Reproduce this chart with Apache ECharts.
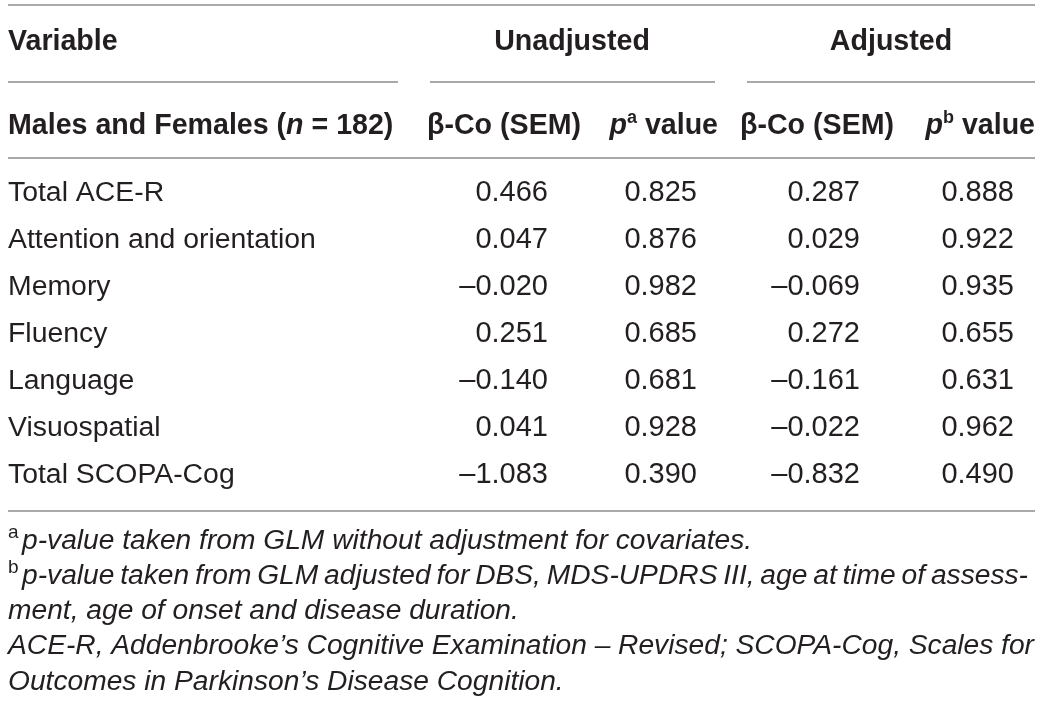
<!DOCTYPE html>
<html>
<head>
<meta charset="utf-8">
<script src="https://cdn.jsdelivr.net/npm/echarts@6/dist/echarts.min.js"></script>
<style>
  html, body { margin: 0; padding: 0; background: #fff; }
  #main { width: 1043px; height: 710px; }
</style>
</head>
<body>
<div id="main"></div>
<script>
// table content
const variables = ['Total ACE-R', 'Attention and orientation', 'Memory', 'Fluency', 'Language', 'Visuospatial', 'Total SCOPA-Cog'];
const unadjBeta = [0.466, 0.047, -0.020, 0.251, -0.140, 0.041, -1.083];
const unadjP = [0.825, 0.876, 0.982, 0.685, 0.681, 0.928, 0.390];
const adjBeta = [0.287, 0.029, -0.069, 0.272, -0.161, -0.022, -0.832];
const adjP = [0.888, 0.922, 0.935, 0.655, 0.631, 0.962, 0.490];
const groupHeaders = ['Unadjusted', 'Adjusted'];
const footnotes = [
    { sup: 'a', text: 'p-value taken from GLM without adjustment for covariates.', justify: false },
    { sup: 'b', text: 'p-value taken from GLM adjusted for DBS, MDS-UPDRS III, age at time of assess-', justify: true },
    { text: 'ment, age of onset and disease duration.', justify: false },
    { text: 'ACE-R, Addenbrooke\u2019s Cognitive Examination \u2013 Revised; SCOPA-Cog, Scales for', justify: true },
    { text: 'Outcomes in Parkinson\u2019s Disease Cognition.', justify: false }
];

// layout
const W = 1043;
const FONT = '"Liberation Sans", Arial, Helvetica, sans-serif';
const TEXT = '#231f20';
const RULE = '#8c8c8c';
const BODY = 28.4;   // body text size
const BOLD = 28.6;   // header size
const FS = 28.2;     // footnote size
const colRight = [548, 697, 860, 1014];
const footY = [541, 576, 611, 646, 682];

const fmt = v => (v < 0 ? '\u2013' : '') + Math.abs(v).toFixed(3);

const ctx = document.createElement('canvas').getContext('2d');
function measure(t, size) {
    ctx.font = 'italic ' + size + 'px ' + FONT;
    return ctx.measureText(t).width;
}

function rule(x1, x2, y) {
    return { type: 'line', shape: { x1: x1, y1: y, x2: x2, y2: y }, style: { stroke: RULE, lineWidth: 1.5 } };
}
function txt(t, x, y, opt) {
    return {
        type: 'text', x: x, y: y,
        style: Object.assign({
            text: t, fontFamily: FONT, fontSize: FS, fill: TEXT,
            align: 'left', verticalAlign: 'middle'
        }, opt || {})
    };
}

const headRich = {
    b: { fontFamily: FONT, fontSize: BOLD, fontWeight: 'bold', fill: TEXT, lineHeight: 34 },
    bi: { fontFamily: FONT, fontSize: BOLD, fontWeight: 'bold', fontStyle: 'italic', fill: TEXT, lineHeight: 34 },
    sup: { fontFamily: FONT, fontSize: 18, fontWeight: 'bold', fill: TEXT, lineHeight: 20, verticalAlign: 'top' }
};
function head(t, x, y, align) {
    return {
        type: 'text', x: x, y: y,
        style: { text: t, rich: headRich, align: align || 'left', verticalAlign: 'middle' }
    };
}

const graphics = [
    rule(8, 1035, 5),
    rule(8, 398, 82), rule(430, 715, 82), rule(747, 1035, 82),
    rule(8, 1035, 158),
    rule(8, 1035, 511),
    head('{b|Variable}', 8, 42),
    head('{b|' + groupHeaders[0] + '}', 572, 42, 'center'),
    head('{b|' + groupHeaders[1] + '}', 891, 42, 'center'),
    head('{b|Males and Females (}{bi|n}{b| = 182)}', 8, 126),
    head('{b|\u03b2-Co (SEM)}', 427, 126),
    head('{bi|p}{sup|a}{b| value}', 718, 126, 'right'),
    head('{b|\u03b2-Co (SEM)}', 740, 126),
    head('{bi|p}{sup|b}{b| value}', 1035, 126, 'right')
];

// footnotes, justified lines are spread word by word
footnotes.forEach(function (f, i) {
    const y = footY[i];
    let x0 = 8;
    if (f.sup) {
        graphics.push(txt(f.sup, 8, y - 8, { fontSize: 19 }));
        x0 = 22;
    }
    if (!f.justify) {
        graphics.push(txt(f.text, x0, y, { fontStyle: 'italic' }));
        return;
    }
    const x1 = i === 1 ? 1028 : 1034;
    const words = f.text.split(' ');
    const widths = words.map(w => measure(w, FS));
    const total = widths.reduce((a, b) => a + b, 0);
    const minGap = FS * 0.2;
    let gap = (x1 - x0 - total) / (words.length - 1);
    let sx = 1;
    if (gap < minGap) {
        gap = minGap;
        sx = (x1 - x0) / (total + gap * (words.length - 1));
    }
    const children = [];
    let x = 0;
    words.forEach(function (w, k) {
        children.push(txt(w, x, 0, { fontStyle: 'italic' }));
        x += widths[k] + gap;
    });
    graphics.push({ type: 'group', x: x0, y: y, scaleX: sx, children: children });
});

const cols = [unadjBeta, unadjP, adjBeta, adjP];
const series = cols.map(function (vals, c) {
    return {
        type: 'scatter',
        symbolSize: 0,
        silent: true,
        itemStyle: { opacity: 1 },
        data: vals.map((v, r) => ({ value: [colRight[c], variables[r]], raw: v })),
        label: {
            show: true,
            position: 'left',
            distance: 0,
            formatter: p => fmt(p.data.raw),
            fontFamily: FONT,
            fontSize: BODY + 0.6,
            color: TEXT,
            opacity: 1
        }
    };
});

const chart = echarts.init(document.getElementById('main'));
chart.setOption({
    animation: false,
    grid: { left: 0, right: 0, top: 170, bottom: 211.5 },
    xAxis: { type: 'value', min: 0, max: W, show: false },
    yAxis: {
        type: 'category',
        inverse: true,
        data: variables,
        axisLine: { show: false },
        axisTick: { show: false },
        splitLine: { show: false },
        axisLabel: {
            inside: true,
            margin: 8,
            align: 'left',
            fontFamily: FONT,
            fontSize: BODY,
            color: TEXT
        }
    },
    graphic: graphics,
    series: series
});
</script>
</body>
</html>
